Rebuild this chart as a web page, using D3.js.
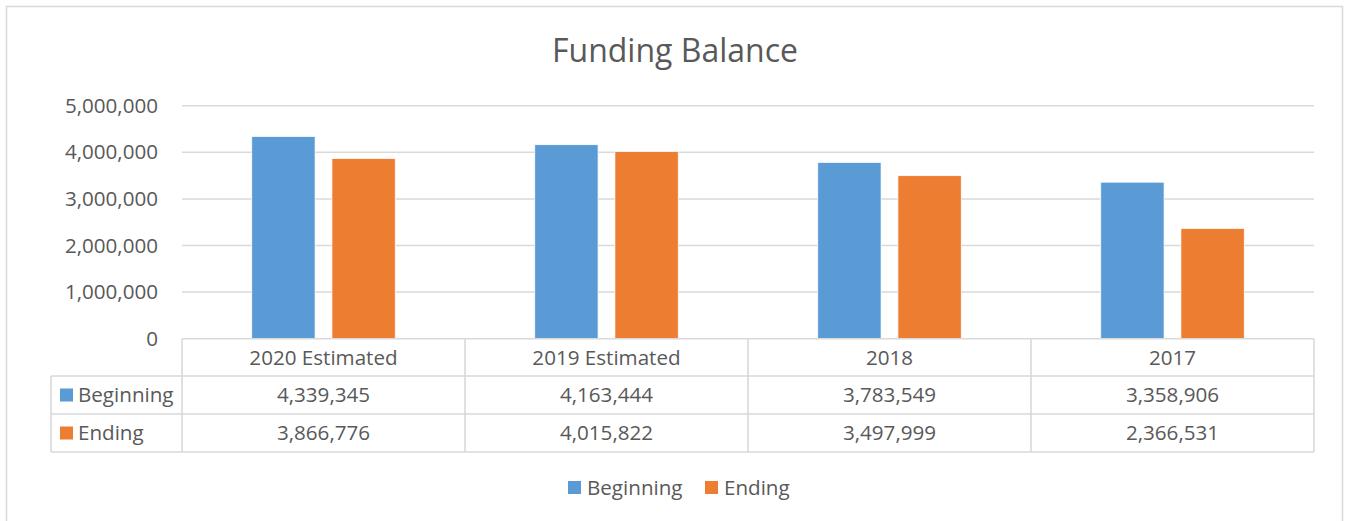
<!DOCTYPE html>
<html>
<head>
<meta charset="utf-8">
<script src="https://cdn.jsdelivr.net/npm/d3@7"></script>
<style>
  body { margin: 0; background: #fff; }
  text { font-family: "Open Sans", "Noto Sans", sans-serif; fill: #595959; }
</style>
</head>
<body>
<div id="chart"></div>
<script>
var categories = ["2020 Estimated", "2019 Estimated", "2018", "2017"];
var seriesNames = ["Beginning", "Ending"];
var beginningValues = [4339345, 4163444, 3783549, 3358906];
var endingValues = [3866776, 4015822, 3497999, 2366531];
var yTicks = [0, 1000000, 2000000, 3000000, 4000000, 5000000];
var colors = ["#5B9BD5", "#ED7D31"];

var W = 1345, H = 521;
var plot = {left: 182, right: 1314, top: 105.7, bottom: 338.7};
var tableLeft = 51;
var rowLines = [338.7, 376, 414, 452];
var fmt = d3.format(",");
var fs = "20.6px";

var svg = d3.select("#chart").append("svg")
    .attr("width", W)
    .attr("height", H);

// outer chart border
svg.append("rect")
    .attr("x", 6.5).attr("y", 6.5)
    .attr("width", 1336).attr("height", 530)
    .attr("fill", "none")
    .attr("stroke", "#D9D9D9")
    .attr("stroke-width", 1.5);

svg.append("text")
    .attr("x", 675).attr("y", 62)
    .attr("text-anchor", "middle")
    .style("font-size", "32px")
    .text("Funding Balance");

// Scales
var y = d3.scaleLinear()
    .domain([0, 5000000])
    .range([plot.bottom, plot.top]);

var x = d3.scaleBand()
    .domain(categories)
    .range([plot.left, plot.right]);

var xSub = d3.scaleBand()
    .domain(seriesNames)
    .range([0, x.bandwidth()])
    .paddingInner(0.21)
    .paddingOuter(0.87);

// gridlines
svg.append("g").selectAll("line")
    .data(yTicks.slice(1))
    .enter().append("line")
    .attr("x1", plot.left).attr("x2", plot.right)
    .attr("y1", function (d) { return y(d); })
    .attr("y2", function (d) { return y(d); })
    .attr("stroke", "#D9D9D9")
    .attr("stroke-width", 1.5);

// y tick labels
var yAxis = d3.axisLeft(y).tickValues(yTicks).tickFormat(fmt).tickSize(0).tickPadding(24);
var yAxisGroup = svg.append("g")
    .attr("transform", "translate(" + plot.left + ",0)")
    .call(yAxis);
yAxisGroup.select(".domain").remove();
yAxisGroup.selectAll("text")
    .attr("fill", "#595959")
    .style("font-family", "'Open Sans', sans-serif")
    .style("font-size", fs);

// bars
var rows = categories.map(function (c, i) {
    return {cat: c, values: [beginningValues[i], endingValues[i]]};
});

var groups = svg.selectAll(".cat")
    .data(rows)
    .enter().append("g")
    .attr("class", "cat")
    .attr("transform", function (d) { return "translate(" + x(d.cat) + ",0)"; });

groups.selectAll("rect")
    .data(function (d) {
        return d.values.map(function (v, j) { return {name: seriesNames[j], value: v, j: j}; });
    })
    .enter().append("rect")
    .attr("x", function (d) { return xSub(d.name); })
    .attr("y", function (d) { return y(d.value); })
    .attr("width", xSub.bandwidth())
    .attr("height", function (d) { return plot.bottom - y(d.value); })
    .attr("fill", function (d) { return colors[d.j]; })
    .attr("stroke", "#fff")
    .attr("stroke-width", 0.75);

// data table
var tg = svg.append("g")
    .attr("stroke", "#D9D9D9")
    .attr("stroke-width", 1.6);

tg.append("line")
    .attr("x1", plot.left).attr("x2", plot.right)
    .attr("y1", rowLines[0]).attr("y2", rowLines[0]);
rowLines.slice(1).forEach(function (ly) {
    tg.append("line")
        .attr("x1", tableLeft).attr("x2", plot.right)
        .attr("y1", ly).attr("y2", ly);
});
tg.append("line")
    .attr("x1", tableLeft).attr("x2", tableLeft)
    .attr("y1", rowLines[1]).attr("y2", rowLines[3]);
categories.forEach(function (c) {
    tg.append("line")
        .attr("x1", x(c)).attr("x2", x(c))
        .attr("y1", rowLines[0]).attr("y2", rowLines[3]);
});
tg.append("line")
    .attr("x1", plot.right).attr("x2", plot.right)
    .attr("y1", rowLines[0]).attr("y2", rowLines[3]);

function rowMid(i) { return (rowLines[i] + rowLines[i + 1]) / 2; }

svg.append("g").selectAll("text")
    .data(categories)
    .enter().append("text")
    .attr("x", function (d) { return x(d) + x.bandwidth() / 2; })
    .attr("y", rowMid(0))
    .attr("dy", "0.35em")
    .attr("text-anchor", "middle")
    .style("font-size", fs)
    .text(function (d) { return d; });

[beginningValues, endingValues].forEach(function (vals, s) {
    var g = svg.append("g");
    g.selectAll("text")
        .data(vals)
        .enter().append("text")
        .attr("x", function (d, i) { return x(categories[i]) + x.bandwidth() / 2; })
        .attr("y", rowMid(s + 1))
        .attr("dy", "0.35em")
        .attr("text-anchor", "middle")
        .style("font-size", fs)
        .text(function (d) { return fmt(d); });

    g.append("rect")
        .attr("x", 60).attr("y", rowMid(s + 1) - 6.5)
        .attr("width", 13).attr("height", 13)
        .attr("fill", colors[s]);
    g.append("text")
        .attr("x", 78).attr("y", rowMid(s + 1))
        .attr("dy", "0.35em")
        .style("font-size", fs)
        .text(seriesNames[s]);
});

// legend
var legendX = [568, 705];
var legend = svg.append("g");
seriesNames.forEach(function (name, i) {
    legend.append("rect")
        .attr("x", legendX[i]).attr("y", 481)
        .attr("width", 13).attr("height", 13)
        .attr("fill", colors[i]);
    legend.append("text")
        .attr("x", legendX[i] + 19).attr("y", 487.5)
        .attr("dy", "0.35em")
        .style("font-size", fs)
        .text(name);
});
</script>
</body>
</html>
